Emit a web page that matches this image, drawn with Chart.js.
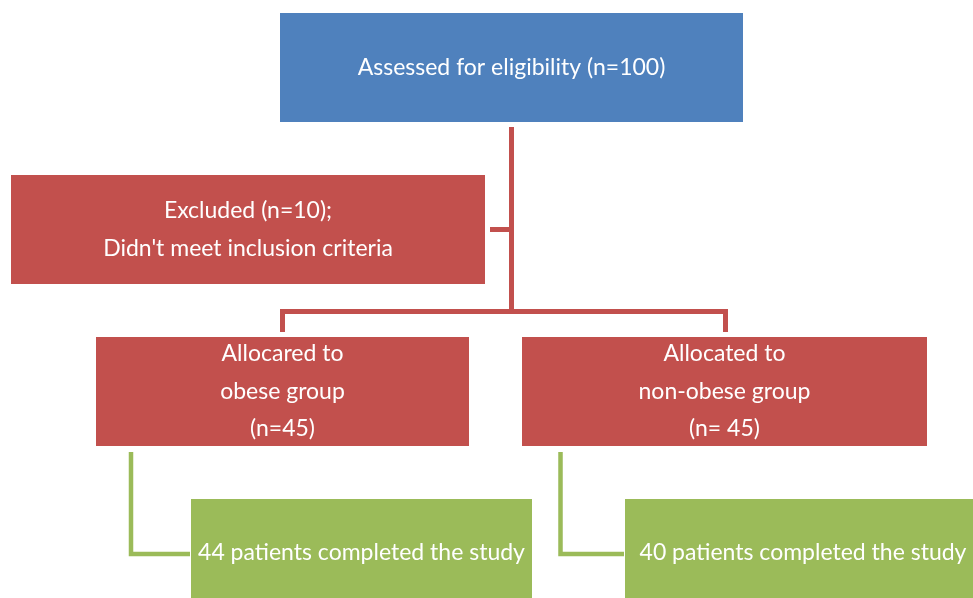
<!DOCTYPE html>
<html>
<head>
<meta charset="utf-8">
<script src="https://cdn.jsdelivr.net/npm/chart.js@4.4.1/dist/chart.umd.min.js"></script>
<style>
  html, body { margin: 0; padding: 0; background: #ffffff; }
  #wrap { width: 973px; height: 598px; }
</style>
</head>
<body>
<div id="wrap"><canvas id="flow" width="973" height="598"></canvas></div>
<script>
/*Boxes (chart units, y grows downward)*/
var boxLeft   = [280, 11, 96, 522, 191, 625];
var boxRight  = [743, 485, 469, 927, 532, 981];
var boxTop    = [13, 175, 337, 337, 499, 499];
var boxBottom = [122, 284, 446, 446, 607, 607];
var boxKind   = ['start', 'red', 'red', 'red', 'green', 'green'];
var boxText   = [
    ['Assessed for eligibility (n=100)'],
    ['Excluded (n=10);', "Didn't meet inclusion criteria"],
    ['Allocared to', 'obese group', '(n=45)'],
    ['Allocated to', 'non-obese group', '(n= 45)'],
    ['44 patients completed the study'],
    ['40 patients completed the study']
];

/*Connectors*/
var linkKind = ['red', 'red', 'red', 'green', 'green'];
var linkX = [
    [511.5, 511.5],
    [490, 511.5],
    [282.5, 282.5, 725.5, 725.5],
    [131, 131, 190],
    [560.5, 560.5, 624]
];
var linkY = [
    [127, 312],
    [229.5, 229.5],
    [332, 311.5, 311.5, 332],
    [452, 554, 554],
    [452, 554, 554]
];

var colors = { start: '#4F81BD', red: '#C2504D', green: '#9BBB59' };
var lineWidths = { red: 5, green: 4.5 };

/*Build datasets*/
var datasets = [];
boxLeft.forEach(function(x0, i) {
    var x1 = boxRight[i], y0 = boxTop[i], y1 = boxBottom[i];
    datasets.push({
        label: boxText[i].join(' '),
        data: [{x: x0, y: y0}, {x: x1, y: y0}, {x: x1, y: y1}, {x: x0, y: y1}, {x: x0, y: y0}],
        showLine: true,
        fill: 'shape',
        backgroundColor: colors[boxKind[i]],
        borderColor: colors[boxKind[i]],
        borderWidth: 0,
        pointRadius: 0,
        tension: 0
    });
});
linkX.forEach(function(xs, i) {
    datasets.push({
        label: 'link' + i,
        data: xs.map(function(x, j) { return {x: x, y: linkY[i][j]}; }),
        showLine: true,
        fill: false,
        borderColor: colors[linkKind[i]],
        borderWidth: lineWidths[linkKind[i]],
        borderJoinStyle: 'miter',
        borderCapStyle: 'butt',
        pointRadius: 0,
        tension: 0
    });
});

/*Text inside boxes*/
var boxLabels = {
    id: 'boxLabels',
    afterDatasetsDraw: function(chart) {
        var ctx = chart.ctx;
        var xs = chart.scales.x, ys = chart.scales.y;
        var lineGap = 37.5;
        ctx.save();
        ctx.fillStyle = '#ffffff';
        ctx.font = '23px Lato, "Open Sans", sans-serif';
        ctx.textAlign = 'center';
        ctx.textBaseline = 'middle';
        boxText.forEach(function(lines, i) {
            var cx = xs.getPixelForValue((boxLeft[i] + boxRight[i]) / 2);
            var cy = ys.getPixelForValue((boxTop[i] + boxBottom[i]) / 2);
            var start = cy - (lines.length - 1) * lineGap / 2;
            lines.forEach(function(t, j) {
                ctx.fillText(t, cx, start + j * lineGap);
            });
        });
        ctx.restore();
    }
};

new Chart(document.getElementById('flow'), {
    type: 'scatter',
    data: { datasets: datasets },
    options: {
        responsive: false,
        animation: false,
        layout: { padding: 0 },
        plugins: { legend: { display: false }, tooltip: { enabled: false } },
        scales: {
            x: { type: 'linear', min: 0, max: 973, display: false },
            y: { type: 'linear', min: 0, max: 598, reverse: true, display: false }
        }
    },
    plugins: [boxLabels]
});
</script>
</body>
</html>
